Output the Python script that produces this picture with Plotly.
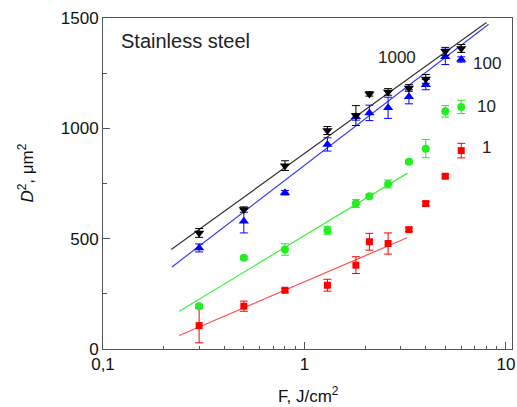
import plotly.graph_objects as go

F = [0.3, 0.5, 0.8, 1.3, 1.8, 2.1, 2.6, 3.3, 4.0, 5.0, 6.0]

d2_1000 = [526, 632, 831, 990, 1058, 1156, 1165, 1183, 1224, 1349, 1362]
err_1000 = [20, 12, 22, 18, 45, 10, 15, 15, 20, 18, 18]

d2_100 = [458, 579, 708, 927, 1052, 1070, 1093, 1143, 1198, 1324, 1312]
err_100 = [18, 53, 10, 30, 15, 35, 48, 32, 23, 35, 12]

d2_10 = [194, 413, 451, 538, 659, 692, 748, 848, 908, 1077, 1097]
err_10 = [8, 8, 26, 18, 18, 8, 18, 8, 41, 26, 30]

d2_1 = [106, 194, 266, 289, 380, 486, 478, 541, 659, 783, 899]
err_1 = [78, 23, 9, 27, 38, 38, 48, 8, 10, 8, 33]

# fit lines (end points)
fit_1000_x = [0.218, 8.0]
fit_1000_y = [451, 1480]
fit_100_x = [0.22, 8.2]
fit_100_y = [372, 1472]
fit_10_x = [0.239, 3.25]
fit_10_y = [171, 797]
fit_1_x = [0.239, 3.23]
fit_1_y = [61, 504]

FONT = "Arial, Liberation Sans, sans-serif"

fig = go.Figure()

series = [
    (fit_1_x, fit_1_y, "#ff5050"),
    (fit_10_x, fit_10_y, "#40f040"),
    (fit_100_x, fit_100_y, "#3c3cff"),
    (fit_1000_x, fit_1000_y, "#333333"),
]
for fx, fy, c in series:
    fig.add_trace(go.Scatter(x=fx, y=fy, mode="lines",
                             line=dict(color=c, width=1.2), showlegend=False))

pts = [
    (d2_1, err_1, "#ff0000", "square", 7),
    (d2_10, err_10, "#22ee22", "circle", 8),
    (d2_100, err_100, "#0000ff", "triangle-up", 9),
    (d2_1000, err_1000, "#000000", "triangle-down", 9),
]
for y, e, c, sym, sz in pts:
    fig.add_trace(go.Scatter(
        x=F, y=y, mode="markers",
        marker=dict(color=c, symbol=sym, size=sz, line=dict(width=0)),
        error_y=dict(type="data", array=e, visible=True, color=c,
                     thickness=1, width=4),
        showlegend=False))

fig.update_xaxes(type="log", range=[-1, 1.03],
                 tickvals=[0.1, 1, 10], ticktext=["0,1", "1", "10"],
                 ticklabeloverflow="allow",
                 ticks="inside", ticklen=7, tickcolor="#555",
                 minor=dict(ticks="inside", ticklen=3, tickcolor="#555",
                            tickvals=[0.2, 0.3, 0.4, 0.5, 0.6, 0.7, 0.8, 0.9,
                                      2, 3, 4, 5, 6, 7, 8, 9]),
                 showline=True, linecolor="#555", linewidth=1, mirror=True,
                 showgrid=False, zeroline=False,
                 tickfont=dict(family=FONT, size=17, color="#111"))
fig.update_yaxes(range=[0, 1500], tickvals=[0, 500, 1000, 1500],
                 ticklabeloverflow="allow",
                 ticks="inside", ticklen=7, tickcolor="#555",
                 minor=dict(ticks="inside", ticklen=4, tickcolor="#555",
                            tickvals=[250, 750, 1250]),
                 showline=True, linecolor="#555", linewidth=1, mirror=True,
                 showgrid=False, zeroline=False,
                 tickfont=dict(family=FONT, size=17, color="#111"))

L, R, T, B = 103, 2, 18, 58
W, H = 517, 407
pw, ph = W - L - R, H - T - B


def px(x):
    return (x - L) / pw


def py(y):
    return (H - B - y) / ph


ann = [
    dict(x=px(119), y=py(41), text="Stainless steel", size=20, xanchor="left"),
    dict(x=px(399), y=py(57), text="1000", size=17, xanchor="center"),
    dict(x=px(490), y=py(64), text="100", size=17, xanchor="center"),
    dict(x=px(489.5), y=py(106), text="10", size=17, xanchor="center"),
    dict(x=px(489.5), y=py(148), text="1", size=17, xanchor="center"),
]
for a in ann:
    fig.add_annotation(x=a["x"], y=a["y"], xref="paper", yref="paper",
                       text=a["text"], showarrow=False,
                       font=dict(family=FONT, size=a["size"], color="#222"),
                       xanchor=a["xanchor"], yanchor="middle")

# axis titles
fig.add_annotation(x=px(310), y=py(395), xref="paper", yref="paper",
                   text="F, J/cm<sup>2</sup>", showarrow=False,
                   font=dict(family=FONT, size=17, color="#111"),
                   xanchor="center", yanchor="middle")
fig.add_annotation(x=px(25), y=py(173), xref="paper", yref="paper",
                   text="<i>D</i><sup>2</sup>, μm<sup>2</sup>", showarrow=False,
                   textangle=-90,
                   font=dict(family=FONT, size=17, color="#111"),
                   xanchor="center", yanchor="middle")

fig.update_layout(width=W, height=H,
                  margin=dict(l=L, r=R, t=T, b=B),
                  paper_bgcolor="white", plot_bgcolor="white",
                  font=dict(family=FONT))

fig.write_html("out.html", config={"displayModeBar": False},
               post_script="document.body.style.margin='0';document.body.style.padding='0';")
